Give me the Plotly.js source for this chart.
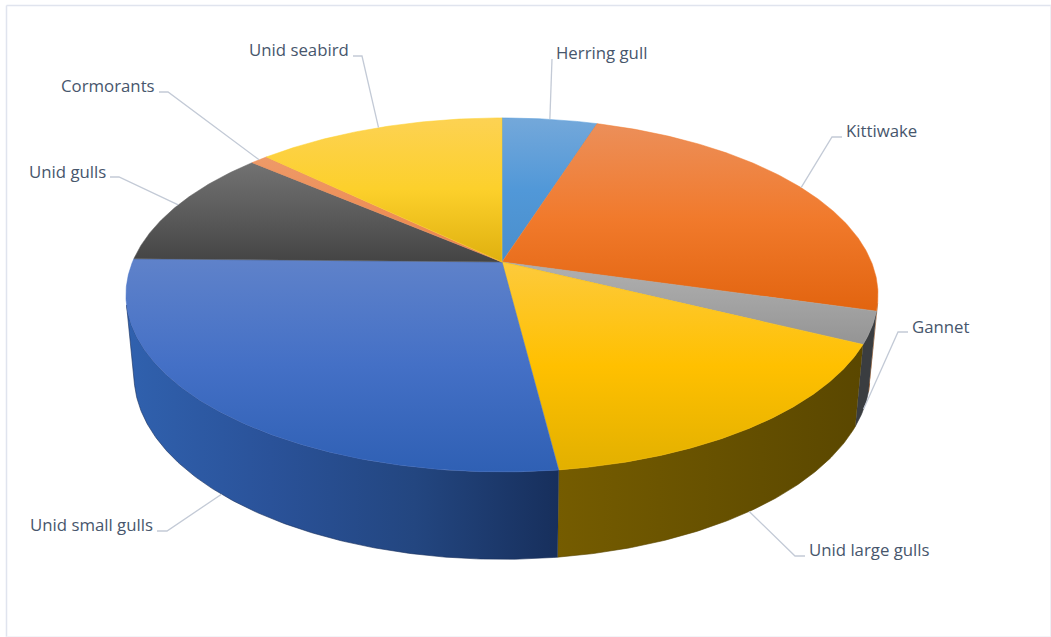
<!DOCTYPE html>
<html>
<head>
<meta charset="utf-8">
<script src="https://cdn.plot.ly/plotly-3.0.1.min.js"></script>
<style>html,body{margin:0;padding:0;background:#fff}#chart{width:1051px;height:637px}</style>
</head>
<body>
<div id="chart"></div>
<script>
// Share of seabird records by group, percent, clockwise from twelve o'clock
const species = ['Herring gull','Kittiwake','Gannet','Unid large gulls','Unid small gulls','Unid gulls','Cormorants','Unid seabird'];
const shares = [4.9,24.5,2.9,15.7,27.3,11.0,0.9,12.8];

// Slice face gradients, top to bottom of each slice on screen
const faceColors = [
  ['#74a8da','#5198d8','#4a8ecb'],
  ['#ec8f5a','#f17a2c','#e2640f'],
  ['#b0b0b0','#a3a3a3','#949494'],
  ['#fdca3c','#ffc000','#e2b000'],
  ['#5f82ca','#4470c6','#2f60b4'],
  ['#727272','#5c5c5c','#444444'],
  ['#ee9a68','#ed8f58','#e98548'],
  ['#fdd253','#fcd02b','#dfb00f']
];
// Rim gradients, left to right
const rimColors = [
  ['#3c6ca6','#3c6ca6'],
  ['#8f4a16','#8f4a16'],
  ['#3a3d40','#3a3d40'],
  ['#755c00','#5a4700'],
  ['#3061ae','#2a5299','#234680','#172f5c'],
  ['#333333','#333333'],
  ['#8f4a16','#8f4a16'],
  ['#75600a','#75600a']
];

// Perspective of the drum: top disc and bottom disc share the same foreshortening
const tilt = 0.186, midX = 502;
const topDisc = {cy:262, rx:369.5, ry:170.9};
const baseDisc = {cy:340.5, rx:361.6, ry:178.1};
function project(disc, deg){
  const t = deg*Math.PI/180, w = 1 + tilt*Math.cos(t);
  return [midX + disc.rx*Math.sin(t)/w, disc.cy - disc.ry*Math.cos(t)/w];
}
function rimVisible(deg){
  const p = project(topDisc,deg), n = project(topDisc,deg+0.2), q = project(baseDisc,deg);
  return (n[0]-p[0])*(q[1]-p[1]) - (n[1]-p[1])*(q[0]-p[0]) < 0;
}
function steps(a,b){
  const out = [];
  const n = Math.max(2,Math.ceil((b-a)/0.5));
  for(let i=0;i<=n;i++) out.push(a+(b-a)*i/n);
  return out;
}
function scale(stops){
  return stops.map((c,i)=>[i/(stops.length-1),c]);
}

const total = shares.reduce((a,b)=>a+b,0);
let running = 0;
const arcs = shares.map(v=>{const a=running/total*360; running+=v; return [a,running/total*360];});

const rims = [], faces = [], leaders = [];

arcs.forEach(([a,b],i)=>{
  const vis = steps(a,b).filter(rimVisible);
  if(vis.length>1){
    const up = vis.map(d=>project(topDisc,d));
    const low = vis.slice().reverse().map(d=>project(baseDisc,d));
    const ring = up.concat(low);
    rims.push({
      x:ring.map(p=>p[0]), y:ring.map(p=>p[1]), type:'scatter', mode:'lines', fill:'toself',
      line:{width:0.6,color:rimColors[i][rimColors[i].length-1]}, hoverinfo:'skip', showlegend:false,
      fillgradient:{type:'horizontal',colorscale:scale(rimColors[i])}
    });
  }
  const ring = [[midX,topDisc.cy]].concat(steps(a,b).map(d=>project(topDisc,d)));
  ring.push([midX,topDisc.cy]);
  // The y axis runs downwards, so the gradient stops are listed from the far end
  faces.push({
    x:ring.map(p=>p[0]), y:ring.map(p=>p[1]), type:'scatter', mode:'lines', fill:'toself',
    line:{width:0.5,color:faceColors[i][1]}, hoverinfo:'skip', showlegend:false,
    fillgradient:{type:'vertical',colorscale:scale(faceColors[i].slice().reverse())}
  });
});

// Label boxes: left edge and vertical centre, then the elbow of the leader
const labelX = [556,846,912,809,30,29,61,249];
const labelY = [52,130,326,549,524,171,85,49];
const elbowX = [[552,552],[842,832],[908,898],[805,795],[157,167],[110,119],[159,168],[353,362]];
const elbowY = [59,137,332,556,531,177,92,56];
const onBase = [false,false,true,true,true,false,false,false];

arcs.forEach(([a,b],i)=>{
  const end = project(onBase[i]?baseDisc:topDisc,(a+b)/2);
  leaders.push({
    x:[elbowX[i][0],elbowX[i][1],end[0]], y:[elbowY[i],elbowY[i],end[1]],
    type:'scatter', mode:'lines', line:{width:1.3,color:'#c3cad6'}, hoverinfo:'skip', showlegend:false
  });
});

function frameLine(x0,y0,x1,y1,color,width){
  return {type:'line',xref:'x',yref:'y',x0,y0,x1,y1,line:{color,width},layer:'below'};
}

const layout = {
  width:1051, height:637, margin:{l:0,r:0,t:0,b:0},
  paper_bgcolor:'#ffffff', plot_bgcolor:'#ffffff', showlegend:false,
  xaxis:{range:[0,1051],visible:false,fixedrange:true},
  yaxis:{range:[637,0],visible:false,fixedrange:true},
  shapes:[
    frameLine(6.5,5.5,1051,5.5,'#e0e4ee',1.5),
    frameLine(6.5,5.5,6.5,637,'#e0e4ee',1.5),
    frameLine(6.5,636.5,1051,636.5,'#f3f4f8',1),
    frameLine(1050.5,5.5,1050.5,637,'#eef0f5',1)
  ],
  annotations:species.map((s,i)=>({
    x:labelX[i], y:labelY[i], xref:'x', yref:'y', text:s, showarrow:false,
    xanchor:'left', yanchor:'middle', xshift:-2,
    font:{family:'"Open Sans", sans-serif', size:16.8, color:'#47566c'}
  }))
};
Plotly.newPlot('chart', rims.concat(faces,leaders), layout, {displayModeBar:false, staticPlot:true});
</script>
</body>
</html>
